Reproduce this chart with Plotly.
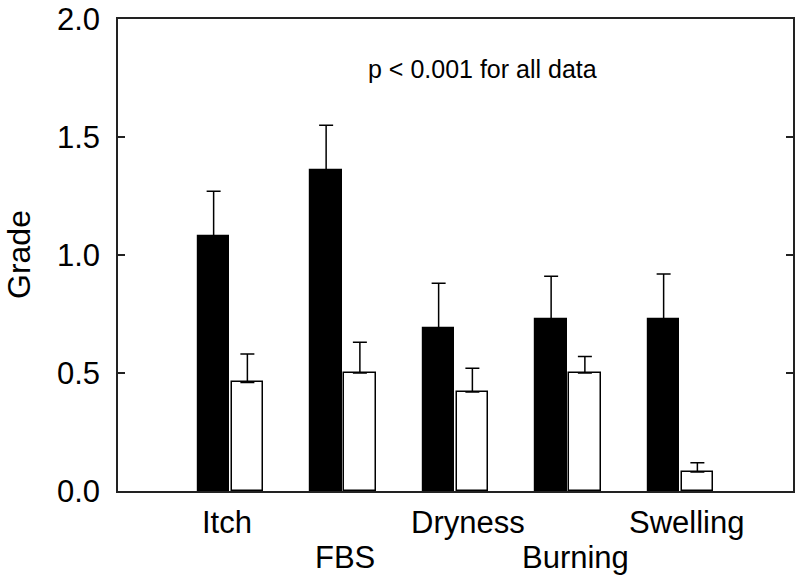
import plotly.graph_objects as go

categories = ["Itch", "FBS", "Dryness", "Burning", "Swelling"]
before_vals = [1.08, 1.36, 0.69, 0.73, 0.73]
before_err = [0.19, 0.19, 0.19, 0.18, 0.19]
after_vals = [0.46, 0.50, 0.42, 0.50, 0.08]
after_err = [0.12, 0.13, 0.10, 0.07, 0.04]
y_ticks = [0.0, 0.5, 1.0, 1.5, 2.0]
note = "p < 0.001 for all data"
y_title = "Grade"

xpos = list(range(len(categories)))
FONT = "Liberation Sans, Arial, sans-serif"

fig = go.Figure()
fig.add_trace(go.Bar(
    x=xpos, y=before_vals, width=0.28, offset=-0.29,
    marker=dict(color="black", line=dict(color="black", width=1.2)),
    error_y=dict(type="data", array=before_err, arrayminus=[0]*5, symmetric=False,
                 color="black", thickness=1.5, width=7),
    showlegend=False,
))
fig.add_trace(go.Bar(
    x=xpos, y=after_vals, width=0.28, offset=0.01,
    marker=dict(color="white", line=dict(color="black", width=1.5)),
    error_y=dict(type="data", array=after_err, arrayminus=[0]*5, symmetric=False,
                 color="black", thickness=1.5, width=7),
    showlegend=False,
))

# staggered category labels
label_shift = [-4, 2, 12, 7, 6]
for i, (c, s) in enumerate(zip(categories, label_shift)):
    fig.add_annotation(x=i, y=0, xref="x", yref="paper", text=c, showarrow=False,
                       xanchor="center", yanchor="middle", xshift=s,
                       yshift=-31 if i % 2 == 0 else -66,
                       font=dict(family=FONT, size=31, color="black"))

fig.add_annotation(x=2.24, y=1.79, xref="x", yref="y", text=note, showarrow=False,
                   xanchor="center", yanchor="middle",
                   font=dict(family=FONT, size=25, color="black"))

fig.add_annotation(x=0, y=0.5, xref="paper", yref="paper", text=y_title, showarrow=False,
                   textangle=-90, xanchor="center", yanchor="middle", xshift=-99,
                   font=dict(family=FONT, size=32, color="black"))

fig.update_layout(
    width=800, height=581,
    margin=dict(l=118, r=7, t=19, b=90),
    plot_bgcolor="white", paper_bgcolor="white",
    bargap=0, barmode="overlay",
    font=dict(family=FONT, color="black"),
)
fig.update_xaxes(range=[-1, 5], showticklabels=False, ticks="", showgrid=False,
                 zeroline=False, showline=True, linecolor="#222", linewidth=1.5,
                 mirror=True, automargin=False)
fig.update_yaxes(range=[0, 2], tickvals=y_ticks, ticktext=[f"{v:.1f}" for v in y_ticks],
                 ticks="inside", ticklen=7, tickwidth=1.5, tickcolor="#222",
                 showgrid=False, zeroline=False, showline=True, linecolor="#222",
                 linewidth=1.5, mirror="ticks", automargin=False,
                 ticklabelstandoff=10,
                 tickfont=dict(family=FONT, size=31, color="black"))

fig.write_html("out.html", config={"displayModeBar": False},
               post_script="document.body.style.margin='0';document.body.style.overflow='hidden';")
